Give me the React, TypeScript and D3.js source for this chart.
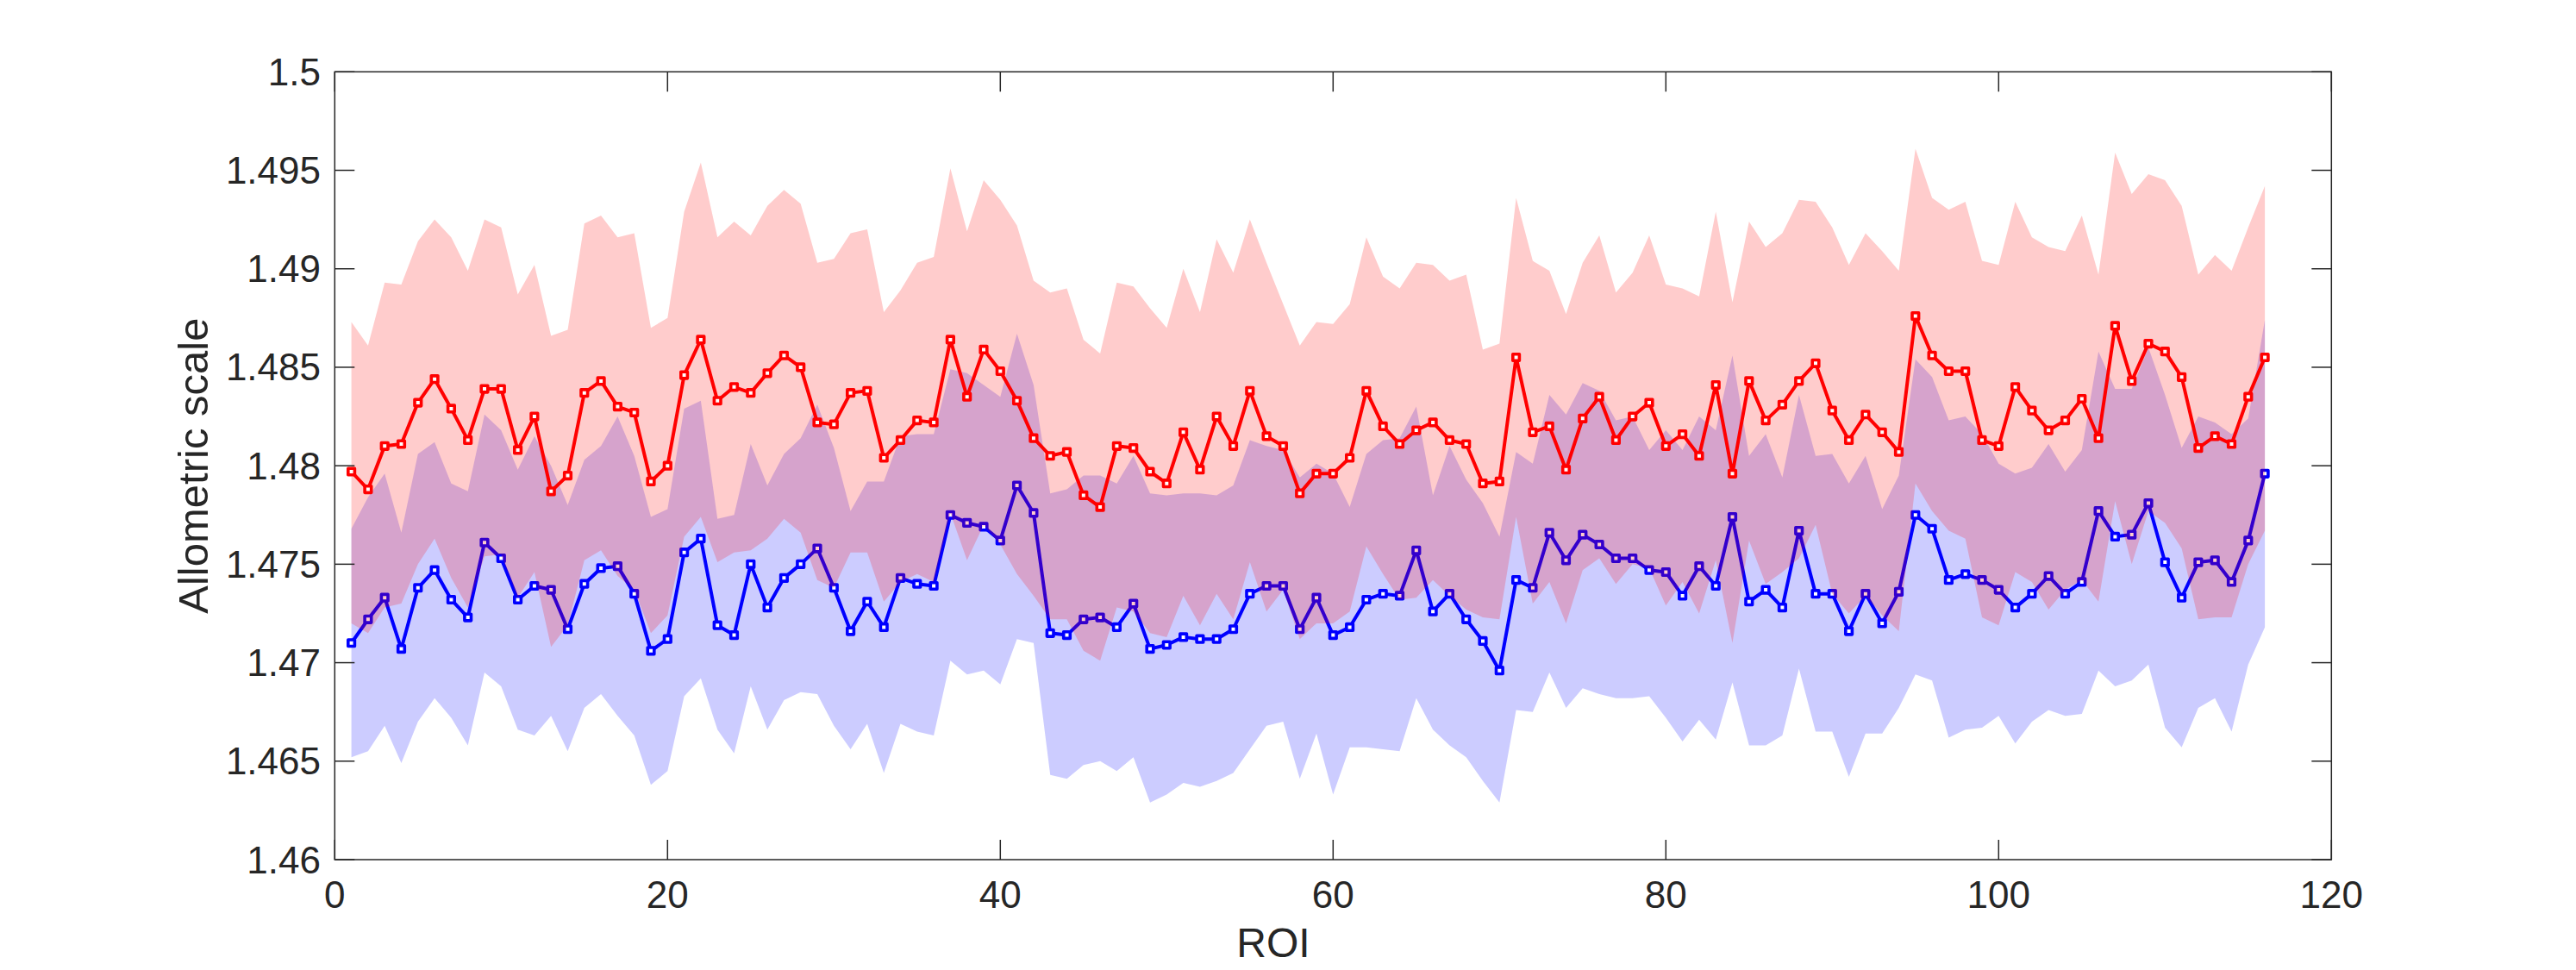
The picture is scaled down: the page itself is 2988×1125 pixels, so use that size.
import React from "react";
import * as d3 from "d3";

// ROI index 1..116
const roi = d3.range(1, 117);

const redMean = [
  1.4797, 1.4788, 1.481, 1.4811, 1.4832, 1.4844, 1.4829, 1.4813, 1.4839, 1.4839, 1.4808, 1.4825, 1.4787, 1.4795, 1.4837,
  1.4843, 1.483, 1.4827, 1.4792, 1.48, 1.4846, 1.4864, 1.4833, 1.484, 1.4837, 1.4847, 1.4856, 1.485, 1.4822, 1.4821,
  1.4837, 1.4838, 1.4804, 1.4813, 1.4823, 1.4822, 1.4864, 1.4835, 1.4859, 1.4848, 1.4833, 1.4814, 1.4805, 1.4807, 1.4785,
  1.4779, 1.481, 1.4809, 1.4797, 1.4791, 1.4817, 1.4798, 1.4825, 1.481, 1.4838, 1.4815, 1.481, 1.4786, 1.4796, 1.4796,
  1.4804, 1.4838, 1.482, 1.4811, 1.4818, 1.4822, 1.4813, 1.4811, 1.4791, 1.4792, 1.4855, 1.4817, 1.482, 1.4798, 1.4824,
  1.4835, 1.4813, 1.4825, 1.4832, 1.481, 1.4816, 1.4805, 1.4841, 1.4796, 1.4843, 1.4823, 1.4831, 1.4843, 1.4852, 1.4828,
  1.4813, 1.4826, 1.4817, 1.4807, 1.4876, 1.4856, 1.4848, 1.4848, 1.4813, 1.481, 1.484, 1.4828, 1.4818, 1.4823, 1.4834,
  1.4814, 1.4871, 1.4843, 1.4862, 1.4858, 1.4845, 1.4809, 1.4815, 1.4811, 1.4835, 1.4855,
];

const redUpper = [
  1.4873, 1.4861, 1.4893, 1.4892, 1.4914, 1.4925, 1.4916, 1.4899, 1.4925, 1.4921, 1.4887, 1.4902, 1.4866, 1.4869, 1.4923,
  1.4927, 1.4916, 1.4918, 1.487, 1.4875, 1.4929, 1.4954, 1.4916, 1.4924, 1.4917, 1.4932, 1.494, 1.4933, 1.4903, 1.4905,
  1.4918, 1.492, 1.4878, 1.4889, 1.4903, 1.4906, 1.4951, 1.4919, 1.4945, 1.4935, 1.4922, 1.4894, 1.4888, 1.489, 1.4864,
  1.4857, 1.4893, 1.4891, 1.488, 1.487, 1.49, 1.4878, 1.4915, 1.4898, 1.4925, 1.4903, 1.4882, 1.4861, 1.4873, 1.4872,
  1.4882, 1.4916, 1.4896, 1.489, 1.4903, 1.4902, 1.4894, 1.4897, 1.4859, 1.4862, 1.4936, 1.4904, 1.4899, 1.4877, 1.4903,
  1.4917, 1.4888, 1.4898, 1.4917, 1.4892, 1.489, 1.4886, 1.4929, 1.4883, 1.4924, 1.4911, 1.4918, 1.4935, 1.4934, 1.4921,
  1.4902, 1.4918, 1.4909, 1.4899, 1.4961, 1.4936, 1.493, 1.4934, 1.4904, 1.4902, 1.4934, 1.4916, 1.4911, 1.4909, 1.4927,
  1.4897, 1.4959, 1.4938, 1.4948, 1.4945, 1.4932, 1.4897, 1.4907, 1.4899, 1.4921, 1.4942,
];

const redLower = [
  1.472, 1.4715, 1.4728, 1.473, 1.475, 1.4763, 1.4743, 1.4728, 1.4754, 1.4755, 1.4733, 1.4746, 1.4708, 1.4719, 1.4752,
  1.4757, 1.4744, 1.4737, 1.4715, 1.4724, 1.4764, 1.4774, 1.4751, 1.4756, 1.4757, 1.4763, 1.4773, 1.4766, 1.4742, 1.4738,
  1.4756, 1.4756, 1.4731, 1.4741, 1.4745, 1.4741, 1.4776, 1.4752, 1.477, 1.476, 1.4745, 1.4734, 1.4722, 1.4722, 1.4706,
  1.4701, 1.4728, 1.4726, 1.4715, 1.4713, 1.4734, 1.4719, 1.4735, 1.4722, 1.4751, 1.4726, 1.4737, 1.4712, 1.472, 1.472,
  1.4726, 1.4759, 1.4745, 1.4732, 1.4733, 1.4742, 1.4734, 1.4727, 1.4723, 1.4722, 1.4774, 1.473, 1.4741, 1.472, 1.4747,
  1.4753, 1.474, 1.475, 1.4748, 1.4729, 1.4741, 1.4725, 1.4752, 1.471, 1.4762, 1.474, 1.4746, 1.4753, 1.477, 1.4735,
  1.4725, 1.4734, 1.4724, 1.4716, 1.4791, 1.4777, 1.4767, 1.4763, 1.4723, 1.4719, 1.4746, 1.4741, 1.4727, 1.4737, 1.4742,
  1.4731, 1.4782, 1.475, 1.4777, 1.4771, 1.4758, 1.4722, 1.4723, 1.4723, 1.475, 1.4767,
];

const blueMean = [
  1.471, 1.4722, 1.4733, 1.4707, 1.4738, 1.4747, 1.4732, 1.4723, 1.4761, 1.4753, 1.4732, 1.4739, 1.4737, 1.4717, 1.474,
  1.4748, 1.4749, 1.4735, 1.4706, 1.4712, 1.4756, 1.4763, 1.4719, 1.4714, 1.475, 1.4728, 1.4743, 1.475, 1.4758, 1.4738,
  1.4716, 1.4731, 1.4718, 1.4743, 1.474, 1.4739, 1.4775, 1.4771, 1.4769, 1.4762, 1.479, 1.4776, 1.4715, 1.4714, 1.4722,
  1.4723, 1.4718, 1.473, 1.4707, 1.4709, 1.4713, 1.4712, 1.4712, 1.4717, 1.4735, 1.4739, 1.4739, 1.4717, 1.4733, 1.4714,
  1.4718, 1.4732, 1.4735, 1.4734, 1.4757, 1.4726, 1.4735, 1.4722, 1.4711, 1.4696, 1.4742, 1.4738, 1.4766, 1.4752, 1.4765,
  1.476, 1.4753, 1.4753, 1.4747, 1.4746, 1.4734, 1.4749, 1.4739, 1.4774, 1.4731, 1.4737, 1.4728, 1.4767, 1.4735, 1.4735,
  1.4716, 1.4735, 1.472, 1.4736, 1.4775, 1.4768, 1.4742, 1.4745, 1.4742, 1.4737, 1.4728, 1.4735, 1.4744, 1.4735, 1.4741,
  1.4777, 1.4764, 1.4765, 1.4781, 1.4751, 1.4733, 1.4751, 1.4752, 1.4741, 1.4762, 1.4796,
];

const blueUpper = [
  1.4768, 1.4784, 1.4796, 1.4766, 1.4806, 1.4812, 1.4791, 1.4787, 1.4826, 1.4818, 1.4798, 1.4815, 1.48, 1.478, 1.4803,
  1.481, 1.4825, 1.4805, 1.4774, 1.4778, 1.4829, 1.4833, 1.4773, 1.4775, 1.4811, 1.479, 1.4806, 1.4814, 1.4831, 1.4809,
  1.4777, 1.4792, 1.4792, 1.4815, 1.4816, 1.4816, 1.4849, 1.4847, 1.4841, 1.4835, 1.4867, 1.4841, 1.4786, 1.4788, 1.4795,
  1.4795, 1.4791, 1.4805, 1.4786, 1.4785, 1.4786, 1.4786, 1.4785, 1.479, 1.4813, 1.481, 1.4808, 1.4794, 1.4801, 1.4796,
  1.4779, 1.4806, 1.4813, 1.4814, 1.483, 1.4785, 1.481, 1.4793, 1.4781, 1.4764, 1.4807, 1.4801, 1.4836, 1.4826, 1.4842,
  1.4838, 1.4823, 1.4825, 1.4808, 1.4818, 1.4808, 1.4825, 1.4818, 1.4856, 1.4805, 1.4816, 1.4794, 1.4836, 1.4805, 1.4806,
  1.4791, 1.4805, 1.4778, 1.4795, 1.4854, 1.4845, 1.4823, 1.4825, 1.4816, 1.4801, 1.4796, 1.4799, 1.4811, 1.4797, 1.4808,
  1.4858, 1.4839, 1.4839, 1.486, 1.4836, 1.4809, 1.4825, 1.4822, 1.4816, 1.4824, 1.4874,
];

const blueLower = [
  1.4652, 1.4655, 1.4668, 1.4649, 1.467, 1.4682, 1.4672, 1.4658, 1.4695, 1.4688, 1.4666, 1.4663, 1.4673, 1.4655, 1.4677,
  1.4684, 1.4673, 1.4663, 1.4638, 1.4645, 1.4683, 1.4692, 1.4666, 1.4654, 1.4688, 1.4666, 1.4681, 1.4685, 1.4684, 1.4668,
  1.4656, 1.4669, 1.4644, 1.4669, 1.4665, 1.4663, 1.4701, 1.4694, 1.4696, 1.4689, 1.4712, 1.471, 1.4643, 1.4641, 1.4648,
  1.465, 1.4645, 1.4652, 1.4629, 1.4633, 1.4639, 1.4637, 1.464, 1.4644, 1.4656, 1.4668, 1.467, 1.4641, 1.4664, 1.4633,
  1.4657, 1.4657, 1.4656, 1.4655, 1.4682, 1.4666, 1.4658, 1.4652, 1.464, 1.4629, 1.4676, 1.4675, 1.4695, 1.4677, 1.4687,
  1.4684, 1.4682, 1.4682, 1.4683, 1.4672, 1.466, 1.4671, 1.4661, 1.469, 1.4658, 1.4658, 1.4663, 1.4697, 1.4665, 1.4665,
  1.4642, 1.4664, 1.4664, 1.4677, 1.4694, 1.4691, 1.4662, 1.4666, 1.4667, 1.4673, 1.4659, 1.467, 1.4676, 1.4673, 1.4674,
  1.4696, 1.4688, 1.4691, 1.4699, 1.4667, 1.4657, 1.4677, 1.4682, 1.4665, 1.4699, 1.4718,
];

const xTicks = [0, 20, 40, 60, 80, 100, 120];
const yTicks = [1.46, 1.465, 1.47, 1.475, 1.48, 1.485, 1.49, 1.495, 1.5];

const W = 2988;
const H = 1125;
const font = "'Liberation Sans', Arial, Helvetica, sans-serif";
const axisColor = "#262626";
const tickLen = 23;

export default function App() {
  const x = d3.scaleLinear().domain([0, 120]).range([388.3, 2704.3]);
  const y = d3.scaleLinear().domain([1.46, 1.5]).range([997, 83.3]);
  const [x0, x1] = x.range();
  const [y0, y1] = y.range();

  const band = (lo: number[], hi: number[]) =>
    d3
      .area<number>()
      .x((d) => x(d))
      .y0((_, i) => y(lo[i]))
      .y1((_, i) => y(hi[i]))(roi) as string;

  const line = (vals: number[]) =>
    d3
      .line<number>()
      .x((d) => x(d))
      .y((_, i) => y(vals[i]))(roi) as string;

  const series = (mean: number[], color: string) => (
    <g>
      <path d={line(mean)} fill="none" stroke={color} strokeWidth={4} strokeLinejoin="round" />
      {roi.map((r, i) => (
        <rect
          key={r}
          x={x(r) - 3.8}
          y={y(mean[i]) - 3.8}
          width={7.6}
          height={7.6}
          fill="#fff"
          stroke={color}
          strokeWidth={3.6}
          strokeLinejoin="round"
        />
      ))}
    </g>
  );

  return (
    <>
      <style>{`body{margin:0}`}</style>
      <svg width={W} height={H} style={{ display: "block", background: "#fff" }} fontFamily={font}>
        <rect width={W} height={H} fill="#fff" />

        {/* blue band + line first, red band drawn on top tints the blue line */}
        <path d={band(blueLower, blueUpper)} fill="rgb(0,0,255)" fillOpacity={0.2} />
        {series(blueMean, "#0000ff")}
        <path d={band(redLower, redUpper)} fill="rgb(255,0,0)" fillOpacity={0.2} />
        {series(redMean, "#ff0000")}

        {/* box */}
        <rect x={x0} y={y1} width={x1 - x0} height={y0 - y1} fill="none" stroke={axisColor} strokeWidth={1.5} />

        {/* x ticks, inward on bottom and top */}
        {xTicks.map((t) => (
          <g key={t}>
            <line x1={x(t)} x2={x(t)} y1={y0} y2={y0 - tickLen} stroke={axisColor} strokeWidth={1.5} />
            <line x1={x(t)} x2={x(t)} y1={y1} y2={y1 + tickLen} stroke={axisColor} strokeWidth={1.5} />
            <text x={x(t)} y={1053} textAnchor="middle" fontSize={44} fill={axisColor}>
              {t}
            </text>
          </g>
        ))}

        {/* y ticks, inward on left and right */}
        {yTicks.map((t) => (
          <g key={t}>
            <line x1={x0} x2={x0 + tickLen} y1={y(t)} y2={y(t)} stroke={axisColor} strokeWidth={1.5} />
            <line x1={x1} x2={x1 - tickLen} y1={y(t)} y2={y(t)} stroke={axisColor} strokeWidth={1.5} />
            <text x={372} y={y(t) + 15.5} textAnchor="end" fontSize={44} fill={axisColor}>
              {String(+t.toFixed(4))}
            </text>
          </g>
        ))}

        <text x={1477} y={1110} textAnchor="middle" fontSize={48} fill={axisColor}>
          ROI
        </text>
        <text
          transform={`translate(241,${(y0 + y1) / 2}) rotate(-90)`}
          textAnchor="middle"
          fontSize={49}
          fill={axisColor}
        >
          Allometric scale
        </text>
      </svg>
    </>
  );
}
